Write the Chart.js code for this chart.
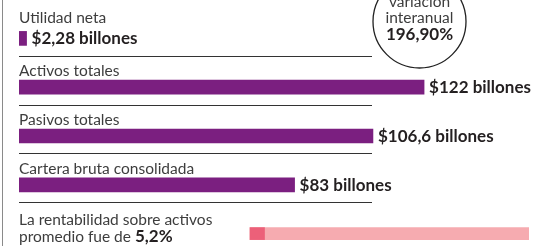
<!DOCTYPE html>
<html>
<head>
<meta charset="utf-8">
<script src="https://cdn.jsdelivr.net/npm/chart.js@4.4.1/dist/chart.umd.min.js"></script>
<style>
  html, body { margin: 0; padding: 0; background: #fff; overflow: hidden; }
  #chart { display: block; }
</style>
</head>
<body>
<canvas id="chart" width="544" height="258"></canvas>
<script>
// rows of the panel
const categories = ['Utilidad neta', 'Activos totales', 'Pasivos totales', 'Cartera bruta consolidada', 'La rentabilidad sobre activos'];
const valueLabels = ['$2,28 billones', '$122 billones', '$106,6 billones', '$83 billones', null];
const amounts = [2.28, 122, 106.6, 83, null];        // billones
const roaTrack = [null, null, null, null, [0, 100]]; // %
const roaValue = [null, null, null, null, [0, 5.2]]; // %
const badgeLines = ['variación', 'interanual', '196,90%'];

const PURPLE = '#7b1f80';
const PINK_LIGHT = '#f6abb0';
const PINK_DARK = '#ec6079';
const TEXT = '#3d3d3d';
const BOLD = '#231f20';
const REG = '15.5px Lato, "Open Sans", sans-serif';
const BLD = 'bold 17px Lato, "Open Sans", sans-serif';

const decor = {
    id: 'decor',
    afterDatasetsDraw(chart) {
        const ctx = chart.ctx;
        const y = chart.scales.y;
        const x = chart.scales.x;
        const c = categories.map((_, i) => y.getPixelForValue(i));

        ctx.save();
        // left rule
        ctx.strokeStyle = '#8a8a8a';
        ctx.lineWidth = 1;
        ctx.beginPath();
        ctx.moveTo(2.5, 0);
        ctx.lineTo(2.5, chart.height);
        ctx.stroke();

        // separators
        ctx.strokeStyle = '#333';
        ctx.lineWidth = 1.2;
        for (let i = 0; i < c.length - 1; i++) {
            const sy = Math.round((c[i] + c[i + 1]) / 2 - 7) + 0.5;
            ctx.beginPath();
            ctx.moveTo(19, sy);
            ctx.lineTo(372, sy);
            ctx.stroke();
        }

        // row titles
        ctx.textBaseline = 'alphabetic';
        ctx.textAlign = 'left';
        ctx.fillStyle = TEXT;
        ctx.font = REG;
        ctx.fillText(categories[0], 19, c[0] - 15);
        for (let i = 1; i < 4; i++) {
            ctx.fillText(categories[i], 19, c[i] - 11);
        }
        ctx.fillText(categories[4], 19, c[4] - 9);
        const pre = 'promedio fue de ';
        ctx.fillText(pre, 19, c[4] + 8);
        const w = ctx.measureText(pre).width;
        ctx.font = BLD;
        ctx.fillStyle = BOLD;
        ctx.fillText('5,2%', 19 + w, c[4] + 8);

        // value labels
        ctx.textBaseline = 'middle';
        amounts.forEach((v, i) => {
            if (v == null) return;
            const px = x.getPixelForValue(v);
            ctx.fillText(valueLabels[i], Math.max(px, 24) + 5, c[i] + 0.5);
        });

        // badge circle
        const cx = 419.5, cy = 21.5, r = 46.5;
        ctx.strokeStyle = '#222';
        ctx.lineWidth = 1.3;
        ctx.beginPath();
        ctx.arc(cx, cy, r, 0, Math.PI * 2);
        ctx.stroke();
        ctx.textAlign = 'center';
        ctx.fillStyle = TEXT;
        ctx.font = REG;
        ctx.fillText(badgeLines[0], cx, 2);
        ctx.fillText(badgeLines[1], cx, 18);
        ctx.fillStyle = BOLD;
        ctx.font = BLD;
        ctx.fillText(badgeLines[2], cx, 34.5);
        ctx.restore();
    }
};

new Chart(document.getElementById('chart'), {
    type: 'bar',
    data: {
        labels: categories,
        datasets: [
            { data: amounts, xAxisID: 'x', backgroundColor: PURPLE, barThickness: 14 },
            { data: roaValue, xAxisID: 'x2', backgroundColor: PINK_DARK, barThickness: 12 },
            { data: roaTrack, xAxisID: 'x2', backgroundColor: PINK_LIGHT, barThickness: 12 }
        ]
    },
    options: {
        indexAxis: 'y',
        responsive: false,
        animation: false,
        layout: { padding: { left: 19, right: 15, top: 14, bottom: 0 } },
        datasets: { bar: { grouped: false } },
        plugins: { legend: { display: false }, tooltip: { enabled: false } },
        scales: {
            x: { display: false, min: 0, max: 153.6 },
            x2: { display: false, min: -82.8, max: 100 },
            y: { display: false }
        }
    },
    plugins: [decor]
});
</script>
</body>
</html>
